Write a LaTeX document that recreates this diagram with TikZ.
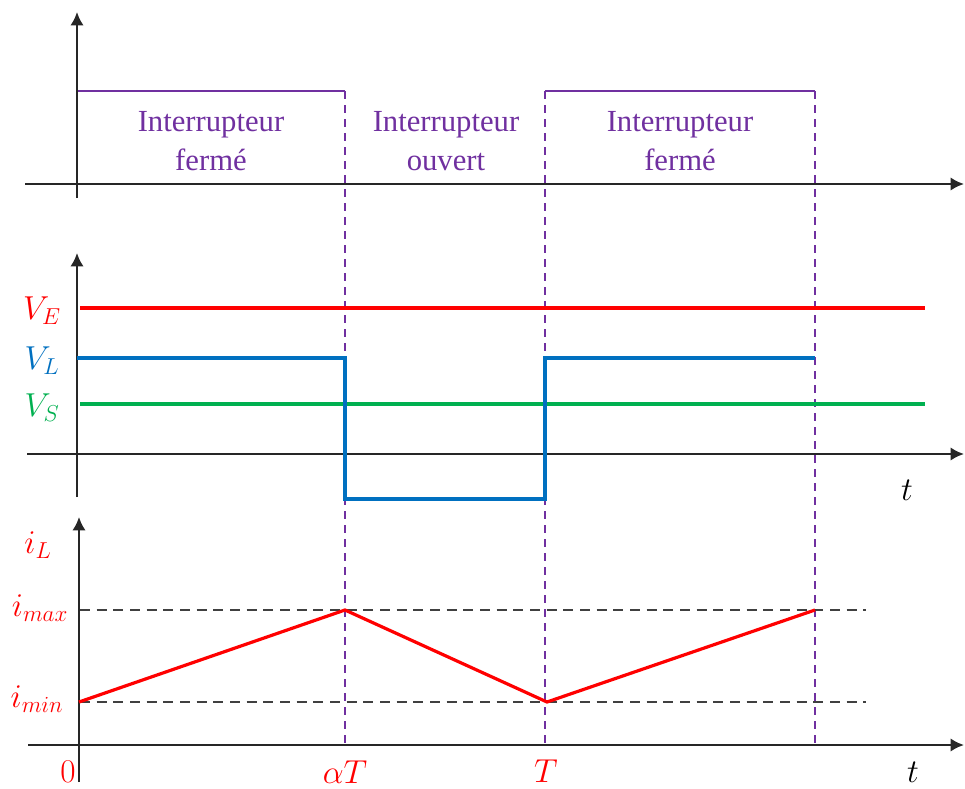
\documentclass[tikz,border=0pt]{standalone}
\usepackage{fontspec}
\setmainfont{Liberation Serif}
\usetikzlibrary{arrows.meta}
\definecolor{switchpurple}{RGB}{112,48,160}
\definecolor{sigred}{RGB}{255,0,0}
\definecolor{sigblue}{RGB}{0,112,192}
\definecolor{siggreen}{RGB}{0,176,80}
\tikzset{
  axis/.style={draw=black!85,line width=1.8pt,-{Latex[length=10pt,width=10pt]}},
  statebox/.style={draw=switchpurple,line width=1.8pt},
  phaseline/.style={draw=switchpurple,line width=1.2pt,dash pattern=on 6pt off 4.5pt},
  levelline/.style={draw=black!75,line width=1.9pt,dash pattern=on 7.5pt off 5pt},
  trace/.style={line width=2.4pt,line join=miter},
  statelabel/.style={text=switchpurple,align=center,inner sep=0pt,font=\fontsize{23}{29}\selectfont},
  siglabel/.style={inner sep=0pt,font=\fontsize{23}{28}\selectfont}
}
\begin{document}
\begin{tikzpicture}[x=.75pt,y=-.75pt]
\path[use as bounding box] (0,0) rectangle (965,789);
\fill[white] (0,0) rectangle (965,789);
% phase boundaries
\draw[phaseline] (345,91) -- (345,745);
\draw[phaseline] (545,91) -- (545,745);
\draw[phaseline] (815,91) -- (815,745);
% switch state
\draw[statebox] (345,91) -- (77,91) -- (77,184);
\draw[statebox] (545,91) -- (815,91);
\node[statelabel] (closedA) at (211,141) {Interrupteur\\fermé};
\node[statelabel] (openA) at (446,141) {Interrupteur\\ouvert};
\node[statelabel] (closedB) at (680,141) {Interrupteur\\fermé};
\draw[axis] (77,198) -- (77,12);
\draw[axis] (25,184) -- (964,184);
% voltages
\draw[axis] (77,497) -- (77,253);
\draw[axis] (27,454) -- (964,454);
\draw[trace,draw=sigred] (80,308) -- (925,308);
\draw[trace,draw=siggreen] (80,404) -- (925,404);
\draw[trace,draw=sigblue] (77,358) -- (345,358) -- (345,499) -- (545,499) -- (545,358) -- (815,358);
\node[siglabel,text=sigred] (lblVE) at (42,311) {$V_E$};
\node[siglabel,text=sigblue] (lblVL) at (42,361) {$V_L$};
\node[siglabel,text=siggreen] (lblVS) at (42,408) {$V_S$};
\node[siglabel] (lblt1) at (907,490) {$t$};
% inductor current
\draw[levelline] (80,610) -- (866,610);
\draw[levelline] (80,702) -- (866,702);
\draw[axis] (79,782) -- (79,517);
\draw[axis] (28,745) -- (964,745);
\coordinate (start) at (79,702);
\coordinate (peakA) at (345,610);
\coordinate (valley) at (547,702);
\coordinate (peakB) at (815,610);
\draw[trace,draw=sigred] (start) -- (peakA) -- (valley) -- (peakB);
\node[siglabel,text=sigred] (lbliL) at (38,545) {$i_L$};
\node[siglabel,text=sigred] (lblmax) at (40,608) {$i_{max}$};
\node[siglabel,text=sigred] (lblmin) at (37,699) {$i_{min}$};
\node[siglabel,text=sigred] (lbl0) at (68,772) {$0$};
\node[siglabel,text=sigred] (lblaT) at (345,772) {$\alpha T$};
\node[siglabel,text=sigred] (lblT) at (546,771) {$T$};
\node[siglabel] (lblt2) at (913,772) {$t$};
\end{tikzpicture}
\end{document}
